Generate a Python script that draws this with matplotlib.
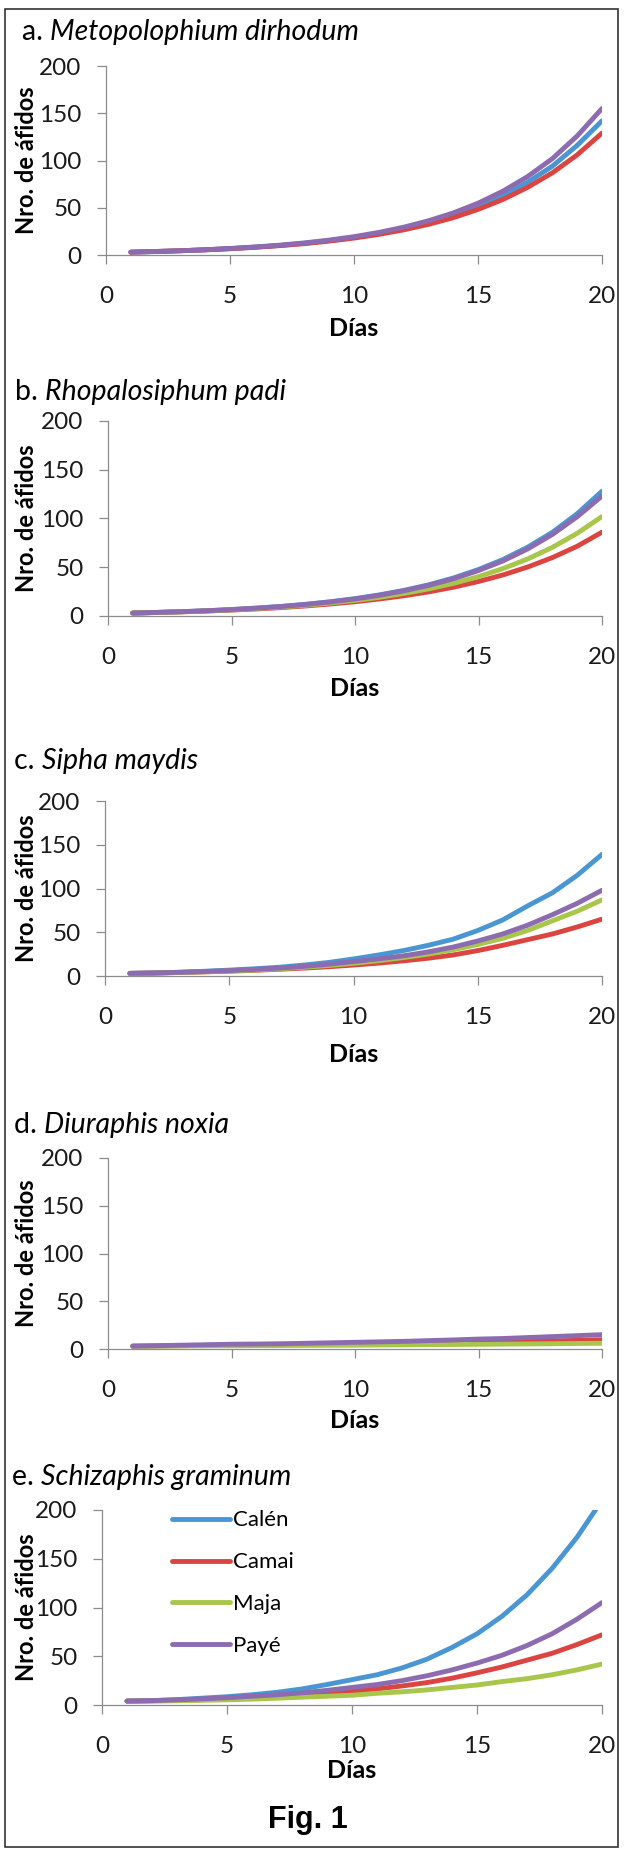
import matplotlib
matplotlib.use("Agg")
import matplotlib.pyplot as plt
from matplotlib.patches import Rectangle

plt.rcParams['font.family'] = ['Lato', 'DejaVu Sans']

dias = list(range(1, 21))
variedades = ['Calén', 'Camai', 'Maja', 'Payé']
colores = {'Calén': '#4A96D2', 'Camai': '#DB4440', 'Maja': '#A7C64A', 'Payé': '#8C6BB1'}

# a. Metopolophium dirhodum (Maja no aparece)
md_calen = [3.0, 3.7, 4.5, 5.5, 6.8, 8.3, 10.1, 12.4, 15.2, 18.6, 22.8, 27.9, 34.2, 41.9, 51.3, 62.8, 77, 94, 116, 142]
md_camai = [3.0, 3.7, 4.5, 5.4, 6.6, 8.1, 9.9, 12.0, 14.7, 17.9, 21.8, 26.6, 32.4, 39.5, 48.2, 58.7, 71.6, 87, 106, 129]
md_paye = [3.0, 3.7, 4.5, 5.6, 6.9, 8.5, 10.4, 12.8, 15.8, 19.4, 23.9, 29.4, 36.2, 44.5, 54.8, 67.5, 83, 102, 126, 155]

# b. Rhopalosiphum padi
rp_calen = [3.0, 3.7, 4.5, 5.4, 6.6, 8.1, 9.8, 12.0, 14.6, 17.8, 21.7, 26.4, 32.1, 39.1, 47.7, 58, 70.7, 86, 105, 128]
rp_camai = [3.0, 3.6, 4.3, 5.1, 6.1, 7.2, 8.6, 10.3, 12.3, 14.6, 17.5, 20.8, 24.8, 29.6, 35.4, 42.2, 50.3, 60.0, 71.6, 86]
rp_maja = [3.0, 3.6, 4.3, 5.2, 6.3, 7.6, 9.2, 11.0, 13.3, 16.0, 19.2, 23.2, 27.9, 33.6, 40.4, 48.7, 58.6, 70.5, 84.9, 102]
rp_paye = [3.0, 3.7, 4.4, 5.4, 6.6, 8.0, 9.7, 11.8, 14.4, 17.5, 21.3, 25.9, 31.5, 38.3, 46.6, 56.6, 68.9, 83.8, 101.9, 123]

# c. Sipha maydis
sm_calen = [3, 3.5, 4.3, 5.4, 6.7, 8.2, 10, 12.5, 15.5, 19.5, 24, 29, 35, 42, 52, 64, 80, 95, 115, 139]
sm_camai = [3, 3.4, 4, 4.7, 5.5, 6.5, 7.7, 9, 10.6, 12.5, 14.7, 17.3, 20.3, 24, 29, 35, 41.5, 48, 56, 65]
sm_maja = [3, 3.4, 4, 4.8, 5.7, 6.8, 8.2, 10, 12, 14.5, 17.5, 21, 25, 30, 36, 43, 52, 63, 74, 87]
sm_paye = [3, 3.5, 4.2, 5.1, 6.2, 7.5, 9, 11, 13.5, 16.5, 19.5, 23, 27.5, 33, 40, 48, 58, 70, 83, 98]

# d. Diuraphis noxia (Calén no aparece)
dn_camai = [3, 3.2, 3.5, 3.8, 4, 4.2, 4.5, 4.7, 5, 5.3, 5.6, 6, 6.3, 6.7, 7, 7.5, 8, 8.5, 9, 9.7]
dn_maja = [3, 3.1, 3.2, 3.3, 3.4, 3.5, 3.6, 3.8, 3.9, 4, 4.2, 4.3, 4.5, 4.7, 4.9, 5.1, 5.3, 5.5, 5.8, 6]
dn_paye = [3, 3.5, 4, 4.5, 5, 5.2, 5.5, 6, 6.5, 7, 7.5, 8, 8.8, 9.5, 10.4, 11, 12, 13, 14, 15]

# e. Schizaphis graminum
sg_calen = [4, 4.5, 5.5, 7, 8.5, 10.5, 13, 16.5, 21, 26, 31, 38, 47, 59, 73, 91, 113, 140, 172, 210]
sg_camai = [4, 4.3, 4.8, 5.5, 6.3, 7.3, 8.5, 10, 11.8, 14, 16.5, 19.5, 23, 27.5, 33, 39, 46, 53, 62, 72]
sg_maja = [4, 4, 4.3, 4.8, 5.3, 6, 7, 8, 9, 10, 12, 13.5, 15.5, 18, 20.5, 24, 27, 31, 36, 42]
sg_paye = [4, 4.5, 5.3, 6.3, 7.5, 9, 10.5, 12.5, 15, 18, 21, 25, 30, 36, 43, 51, 61, 73, 88, 105]

letras = ['a.', 'b.', 'c.', 'd.', 'e.']
especies = ['Metopolophium dirhodum', 'Rhopalosiphum padi', 'Sipha maydis',
            'Diuraphis noxia', 'Schizaphis graminum']
series = [
    {'Calén': md_calen, 'Camai': md_camai, 'Payé': md_paye},
    {'Calén': rp_calen, 'Camai': rp_camai, 'Maja': rp_maja, 'Payé': rp_paye},
    {'Calén': sm_calen, 'Camai': sm_camai, 'Maja': sm_maja, 'Payé': sm_paye},
    {'Camai': dn_camai, 'Maja': dn_maja, 'Payé': dn_paye},
    {'Calén': sg_calen, 'Camai': sg_camai, 'Maja': sg_maja, 'Payé': sg_paye},
]

W, H = 629, 1850
# caja de cada panel en pixeles: izquierda, derecha, arriba (200), abajo (0)
cajas = [(106, 602, 66, 255), (108, 602, 421, 616), (105, 602, 801, 976),
         (108, 602, 1158, 1349), (102, 602, 1510, 1705)]
titulo_pos = [(22, 40), (15, 400), (14, 769), (14, 1133), (12, 1485)]
dias_y = [328, 688, 1055, 1420, 1770]

fig = plt.figure(figsize=(W / 100, H / 100), dpi=100)
fig.add_artist(Rectangle((5 / W, 1 - 1847 / H), (618 - 5) / W, (1847 - 9) / H,
                         transform=fig.transFigure, fill=False, ec='#333333', lw=1.2))

gris = '#8c8c8c'
for i in range(5):
    l, r, t, b = cajas[i]
    ax = fig.add_axes([l / W, 1 - b / H, (r - l) / W, (b - t) / H])
    for nombre, vals in series[i].items():
        ax.plot(dias, vals, color=colores[nombre], lw=3.5, solid_capstyle='round',
                solid_joinstyle='round', label=nombre)
    ax.set_xlim(0, 20)
    ax.set_ylim(0, 200)
    ax.set_xticks([0, 5, 10, 15, 20])
    ax.set_yticks([0, 50, 100, 150, 200])
    for s in ['top', 'right']:
        ax.spines[s].set_visible(False)
    for s in ['left', 'bottom']:
        ax.spines[s].set_color(gris)
        ax.spines[s].set_linewidth(0.9)
    ax.tick_params(axis='both', direction='out', length=6.5, width=0.9, color=gris,
                   labelsize=17.5, labelcolor='#1a1a1a')
    ax.tick_params(axis='x', pad=16)
    ax.tick_params(axis='y', pad=11)
    ax.patch.set_alpha(0)

    t1 = fig.text(titulo_pos[i][0] / W, 1 - titulo_pos[i][1] / H, letras[i] + ' ',
                  fontsize=20.5, va='baseline', ha='left')
    ax.annotate(especies[i], xy=(1, 0), xycoords=t1, va='bottom', ha='left',
                fontsize=20.5, style='italic', annotation_clip=False)

    fig.text(27 / W, 1 - ((t + b) / 2) / H, 'Nro. de áfidos', rotation=90,
             fontsize=17, fontweight='bold', ha='center', va='center')
    fig.text(((l + r) / 2) / W, 1 - dias_y[i] / H, 'Días', fontsize=18,
             fontweight='bold', ha='center', va='center')

    if i == 4:
        ax.legend(loc='upper left', bbox_to_anchor=(0.10, 1.10), frameon=False,
                  fontsize=16, handlelength=2.6, handletextpad=0.15, labelspacing=0.98)

fig.text(308 / W, 1 - 1828 / H, 'Fig. 1', fontsize=22, fontweight='bold',
         family=['Liberation Sans', 'DejaVu Sans'], ha='center', va='baseline')

fig.savefig('out.png', dpi=100)
